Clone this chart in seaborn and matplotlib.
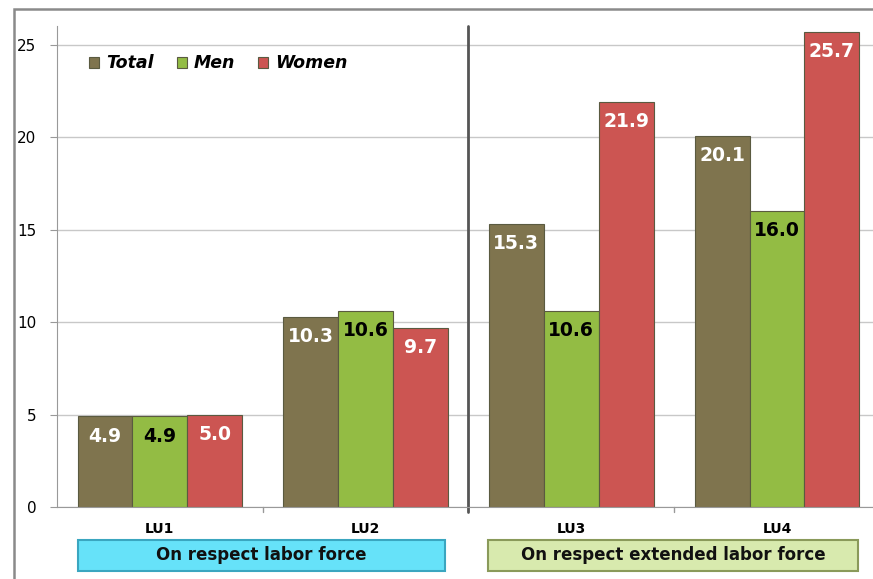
import numpy as np
import pandas as pd
import matplotlib
matplotlib.use("Agg")
import matplotlib.pyplot as plt
from matplotlib.patches import Rectangle
import seaborn as sns

# ── Дані ─────────────────────────────────────────────────────────
CATEGORIES = ["LU1", "LU2", "LU3", "LU4"]
SERIES     = ["Total", "Men", "Women"]
TOTAL      = [4.9, 10.3, 15.3, 20.1]
MEN        = [4.9, 10.6, 10.6, 16.0]
WOMEN      = [5.0, 9.7, 21.9, 25.7]
GROUPS     = ["On respect labor force", "On respect extended labor force"]

COLORS = {"Total": "#7F744E", "Men": "#93BC44", "Women": "#CC5552"}
LABEL_COLORS = {"Total": "white", "Men": "black", "Women": "white"}

df = pd.DataFrame({
    "cat": CATEGORIES * 3,
    "series": ["Total"] * 4 + ["Men"] * 4 + ["Women"] * 4,
    "value": TOTAL + MEN + WOMEN,
})

sns.set_style("white")
plt.rcParams["font.family"] = ["DejaVu Sans"]

fig = plt.figure(figsize=(8.73, 5.79), dpi=100)
ax = fig.add_axes([57 / 873, 72 / 579, 816 / 873, 480.5 / 579])

sns.barplot(data=df, x="cat", y="value", hue="series", order=CATEGORIES,
            hue_order=SERIES, palette=COLORS, width=0.8, saturation=1,
            edgecolor="#5a5a40", linewidth=0.8, ax=ax, legend=True)

# підписи значень всередині стовпців
for cont, s in zip(ax.containers, SERIES):
    ax.bar_label(cont, fmt="%.1f", padding=-21, color=LABEL_COLORS[s],
                 fontsize=13.5, fontweight="bold")

ax.set_xlim(-0.5, 3.467)
ax.set_ylim(0, 26)
ax.set_yticks(range(0, 26, 5))
ax.yaxis.grid(True, color="#C8C8C8", lw=1)
ax.set_axisbelow(True)
ax.set_xlabel(""); ax.set_ylabel("")
for side in ["top", "right"]:
    ax.spines[side].set_visible(False)
ax.spines["left"].set_color("#999999")
ax.spines["bottom"].set_color("#999999")
ax.tick_params(axis="y", left=True, length=5, color="#999999",
               labelsize=11, labelcolor="black", pad=10)
ax.tick_params(axis="x", bottom=False, labelsize=10, labelcolor="black", pad=7)
for lbl in ax.get_xticklabels():
    lbl.set_fontweight("bold")
for xb in [0.5, 2.5]:
    ax.plot([xb, xb], [0, -0.25], color="#999999", lw=1, clip_on=False)

# роздільник між групами
ax.plot([1.5, 1.5], [-0.25, 26], color="#555555", lw=2, clip_on=False)

leg = ax.legend(loc="upper left", bbox_to_anchor=(0.02, 0.975), ncol=3,
                frameon=False, handlelength=0.6, handleheight=0.6,
                columnspacing=1.3, handletextpad=0.4,
                prop={"size": 12.5, "weight": "bold", "style": "italic"})
for t in leg.get_texts():
    t.set_color("black")

# рамка рисунка
fig.patches.append(Rectangle((14 / 873, -0.05), 1.0, 1 - 9 / 579 + 0.05,
                             transform=fig.transFigure, fill=False,
                             edgecolor="#8a8a8a", lw=1.8))

# плашки груп
boxes = [(78, 445, "#66E2F9", "#3aa6c0"), (488, 858, "#D8EAAE", "#8a9a5a")]
for (x0, x1, fc, ec), txt in zip(boxes, GROUPS):
    fig.patches.append(Rectangle((x0 / 873, 8 / 579), (x1 - x0) / 873, 31 / 579,
                                 transform=fig.transFigure, facecolor=fc,
                                 edgecolor=ec, lw=1.5))
    fig.text((x0 + x1) / 2 / 873, 23.5 / 579, txt, ha="center", va="center",
             fontsize=12, fontweight="bold", color="#111111")

fig.savefig("out.png", dpi=100)
